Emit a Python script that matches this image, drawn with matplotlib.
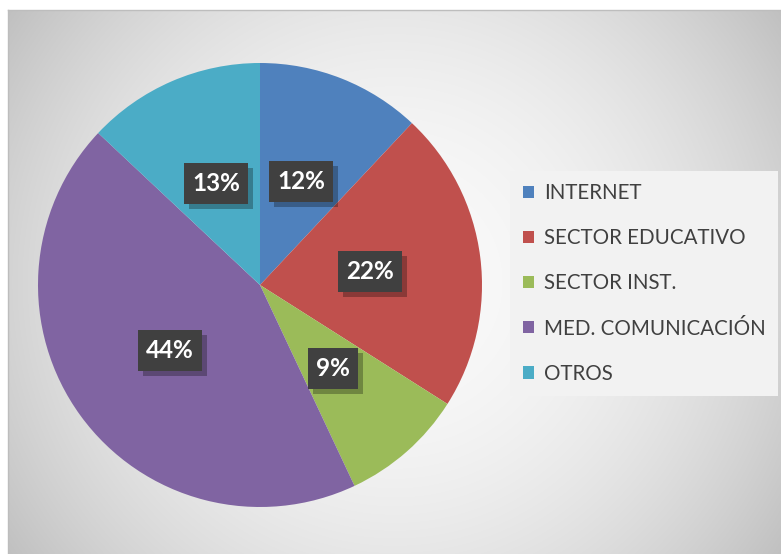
import numpy as np
import matplotlib
matplotlib.use("Agg")
import matplotlib.pyplot as plt
from matplotlib.patches import Rectangle
from matplotlib.transforms import IdentityTransform

plt.rcParams['font.family'] = ['Lato', 'DejaVu Sans']

categories = ["INTERNET", "SECTOR EDUCATIVO", "SECTOR INST.", "MED. COMUNICACIÓN", "OTROS"]
values = [12, 22, 9, 44, 13]
colors = ["#4F81BD", "#C0504D", "#9BBB59", "#8064A2", "#4BACC6"]

W, H = 781, 554
fig = plt.figure(figsize=(W / 100, H / 100), dpi=100)
fig.patch.set_facecolor("white")

# background chart area with radial gradient
x0, y0 = 8, 10
bg = fig.add_axes([x0 / W, 0, (W - x0) / W, (H - y0) / H], zorder=0)
bw, bh = W - x0, H - y0
yy, xx = np.mgrid[0:bh, 0:bw]
cx, cy = bw / 2, bh / 2
r = np.sqrt((xx - cx) ** 2 + (yy - cy) ** 2) / np.sqrt(cx ** 2 + cy ** 2)
light, dark = 250 / 255, 192 / 255
g = light - (light - dark) * np.clip(r, 0, 1) ** 2
bg.imshow(np.dstack([g, g, g]), aspect="auto", extent=(0, bw, bh, 0), interpolation="bilinear")
bg.set_xlim(0, bw)
bg.set_ylim(bh, 0)
bg.set_xticks([])
bg.set_yticks([])
for s in ["right", "bottom"]:
    bg.spines[s].set_visible(False)
for s in ["top", "left"]:
    bg.spines[s].set_color("#bdbdbd")
    bg.spines[s].set_linewidth(1.0)

# pie
pcx, pcy, R = 260, 285, 222
ax = fig.add_axes([(pcx - R) / W, (H - pcy - R) / H, 2 * R / W, 2 * R / H], zorder=1)
ax.set_facecolor("none")
wedges, texts, autotexts = ax.pie(
    values, colors=colors, startangle=90, counterclock=False, radius=1.0,
    autopct=lambda p: f"{p:.0f}%", pctdistance=0.5,
    wedgeprops=dict(linewidth=0),
    textprops=dict(color="white", fontsize=17.5, fontweight="bold"))
ax.set_xlim(-1, 1)
ax.set_ylim(-1, 1)
ax.set_aspect("equal")
ax.axis("off")

for t in autotexts:
    t.set_ha("center")
    t.set_va("center")
    t.set_zorder(6)

fig.canvas.draw()
renderer = fig.canvas.get_renderer()
box_h = 41
for t in autotexts:
    ext = t.get_window_extent(renderer)
    bwid = ext.width + 16
    cxp = (ext.x0 + ext.x1) / 2
    cyp = (ext.y0 + ext.y1) / 2
    shadow = Rectangle((cxp - bwid / 2 + 5, cyp - box_h / 2 - 5), bwid, box_h,
                       transform=IdentityTransform(), facecolor="black", alpha=0.28,
                       edgecolor="none", zorder=4)
    box = Rectangle((cxp - bwid / 2, cyp - box_h / 2), bwid, box_h,
                    transform=IdentityTransform(), facecolor="#404040",
                    edgecolor="none", zorder=5)
    ax.add_artist(shadow)
    ax.add_artist(box)

leg = fig.legend(wedges, categories, loc="center left", bbox_to_anchor=(510 / W, 1 - 283.5 / H),
                 frameon=True, facecolor="#f2f2f2", edgecolor="none", framealpha=1,
                 fancybox=False, fontsize=14.8, handlelength=0.54, handleheight=0.54,
                 handletextpad=0.49, labelspacing=1.22, borderpad=0.62, borderaxespad=0)
for txt in leg.get_texts():
    txt.set_color("#404040")

fig.savefig("out.png", dpi=100)
